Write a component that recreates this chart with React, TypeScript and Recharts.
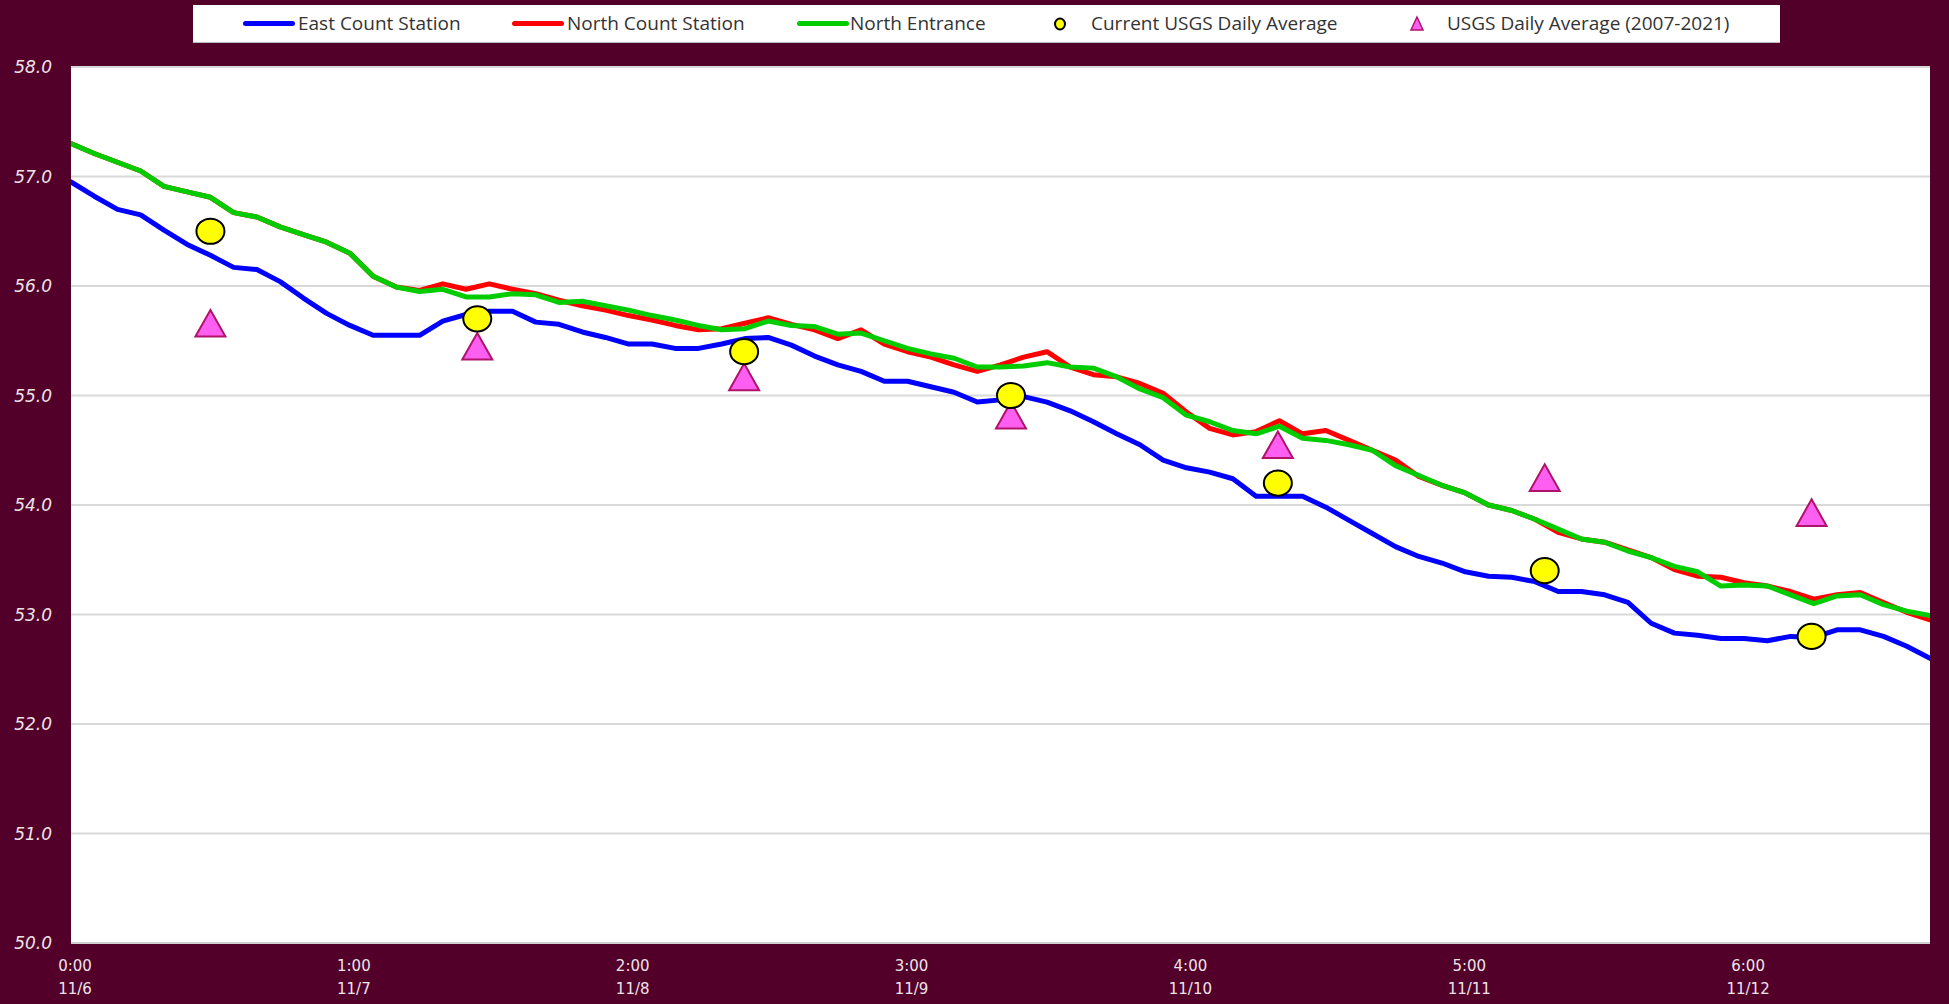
import React from "react";
import {
  ComposedChart,
  Line,
  Scatter,
  XAxis,
  YAxis,
  CartesianGrid,
} from "recharts";

// 2-hour samples starting 11/6 0:00 (x in days)
const eastCount = [
  56.95, 56.82, 56.7, 56.65, 56.51, 56.38, 56.28, 56.17, 56.15, 56.04, 55.89, 55.75, 55.64,
  55.55, 55.55, 55.55, 55.68, 55.74, 55.77, 55.77, 55.67, 55.65, 55.58, 55.53, 55.47,
  55.47, 55.43, 55.43, 55.47, 55.52, 55.53, 55.46, 55.36, 55.28, 55.22, 55.13, 55.13,
  55.08, 55.03, 54.94, 54.96, 54.99, 54.94, 54.86, 54.76, 54.65, 54.55, 54.41, 54.34,
  54.3, 54.24, 54.08, 54.08, 54.08, 53.98, 53.86, 53.74, 53.62, 53.53, 53.47, 53.39,
  53.35, 53.34, 53.3, 53.21, 53.21, 53.18, 53.11, 52.92, 52.83, 52.81, 52.78, 52.78,
  52.76, 52.8, 52.79, 52.86, 52.86, 52.8, 52.71, 52.6,
];
const northCount = [
  57.3, 57.21, 57.13, 57.05, 56.91, 56.86, 56.81, 56.67, 56.63, 56.54, 56.47, 56.4, 56.3,
  56.09, 55.99, 55.96, 56.02, 55.97, 56.02, 55.97, 55.93, 55.87, 55.82, 55.78, 55.73,
  55.69, 55.64, 55.6, 55.61, 55.66, 55.71, 55.65, 55.6, 55.52, 55.6, 55.47, 55.4, 55.35,
  55.28, 55.22, 55.28, 55.35, 55.4, 55.26, 55.19, 55.17, 55.11, 55.02, 54.85, 54.7,
  54.64, 54.67, 54.77, 54.65, 54.68, 54.59, 54.5, 54.41, 54.26, 54.18, 54.11, 54.0,
  53.95, 53.87, 53.75, 53.69, 53.66, 53.59, 53.52, 53.41, 53.35, 53.34, 53.29, 53.26,
  53.21, 53.14, 53.18, 53.2, 53.11, 53.02, 52.95,
];
const northEntrance = [
  57.3, 57.21, 57.13, 57.05, 56.91, 56.86, 56.81, 56.67, 56.63, 56.54, 56.47, 56.4, 56.3,
  56.09, 55.99, 55.95, 55.97, 55.9, 55.9, 55.93, 55.92, 55.85, 55.86, 55.82, 55.78, 55.73,
  55.69, 55.64, 55.6, 55.61, 55.68, 55.64, 55.63, 55.56, 55.57, 55.5, 55.43, 55.38,
  55.34, 55.26, 55.26, 55.27, 55.3, 55.26, 55.25, 55.17, 55.06, 54.98, 54.82, 54.76,
  54.68, 54.65, 54.72, 54.61, 54.59, 54.55, 54.5, 54.36, 54.27, 54.18, 54.11, 54.0,
  53.95, 53.87, 53.78, 53.69, 53.66, 53.58, 53.52, 53.44, 53.39, 53.26, 53.27, 53.26,
  53.18, 53.1, 53.17, 53.18, 53.09, 53.03, 52.99,
];
const sampleStepDays = 1 / 12;

const usgsX = [0.5, 1.457, 2.414, 3.371, 4.328, 5.285, 6.242];
const usgsCurrent = [56.5, 55.7, 55.4, 55.0, 54.2, 53.4, 52.8];
const usgsHistoric = [55.66, 55.45, 55.17, 54.82, 54.55, 54.25, 53.93];

const xTickTimes = ["0:00", "1:00", "2:00", "3:00", "4:00", "5:00", "6:00"];
const xTickDates = ["11/6", "11/7", "11/8", "11/9", "11/10", "11/11", "11/12"];
const yTicks = [50, 51, 52, 53, 54, 55, 56, 57, 58];

const seriesNames = {
  east: "East Count Station",
  north: "North Count Station",
  entrance: "North Entrance",
  current: "Current USGS Daily Average",
  historic: "USGS Daily Average (2007-2021)",
};

const lineData = eastCount.map((v, i) => ({
  x: i * sampleStepDays,
  east: v,
  north: northCount[i],
  entrance: northEntrance[i],
}));
const currentData = usgsX.map((x, i) => ({ x, y: usgsCurrent[i] }));
const historicData = usgsX.map((x, i) => ({ x, y: usgsHistoric[i] }));

const BG = "#52002A";
const W = 1949;
const H = 1004;

const XTick = (props: any) => {
  const { x, y, payload } = props;
  const k = Math.round(payload.value);
  return (
    <text
      x={x + 4}
      y={y}
      textAnchor="middle"
      fill="#EDE4E8"
      fontFamily="DejaVu Sans"
      fontSize={15}
    >
      <tspan x={x + 4} dy={28}>
        {xTickTimes[k]}
      </tspan>
      <tspan x={x + 4} dy={22.5}>
        {xTickDates[k]}
      </tspan>
    </text>
  );
};

const YTick = (props: any) => {
  const { x, y, payload } = props;
  return (
    <text
      x={x}
      y={y}
      dy={6}
      textAnchor="end"
      fill="#EDE4E8"
      fontFamily="DejaVu Sans"
      fontStyle="italic"
      fontSize={17}
    >
      {Number(payload.value).toFixed(1)}
    </text>
  );
};

const CircleShape = (p: any) => (
  <ellipse cx={p.cx} cy={p.cy} rx={14} ry={12.6} fill="#FFFF00" stroke="#000" strokeWidth={2} />
);
const TriShape = (p: any) => {
  const w = 15;
  const h = 13.3;
  const d = `M${p.cx},${p.cy - h} L${p.cx + w},${p.cy + h} L${p.cx - w},${p.cy + h} Z`;
  return <path d={d} fill="#FF5FF0" stroke="#B0136A" strokeWidth={2} strokeLinejoin="miter" />;
};

const legendText: React.CSSProperties = {
  position: "absolute",
  top: 5,
  fontFamily: "'Open Sans'",
  fontSize: 19,
  color: "#333333",
  whiteSpace: "nowrap",
};

const Swatch = ({ left, color }: { left: number; color: string }) => (
  <div
    style={{
      position: "absolute",
      left,
      top: 16,
      width: 52,
      height: 5,
      borderRadius: 3,
      background: color,
    }}
  />
);

const Legend = () => (
  <div
    style={{
      position: "absolute",
      left: 193,
      top: 5,
      width: 1587,
      height: 37,
      background: "#fff",
      borderBottom: "1px solid #bbb",
    }}
  >
    <Swatch left={50} color="#0000FF" />
    <div style={{ ...legendText, left: 105 }}>{seriesNames.east}</div>
    <Swatch left={319} color="#FF0000" />
    <div style={{ ...legendText, left: 374 }}>{seriesNames.north}</div>
    <Swatch left={604} color="#00CC00" />
    <div style={{ ...legendText, left: 657 }}>{seriesNames.entrance}</div>
    <svg style={{ position: "absolute", left: 855, top: 10 }} width={24} height={20}>
      <ellipse cx={12} cy={9} rx={5} ry={5.5} fill="#FFFF00" stroke="#000" strokeWidth={2} />
    </svg>
    <div style={{ ...legendText, left: 898 }}>{seriesNames.current}</div>
    <svg style={{ position: "absolute", left: 1212, top: 10 }} width={24} height={20}>
      <path d="M12,2 L18,15 L6,15 Z" fill="#FF5FF0" stroke="#B0136A" strokeWidth={1.5} />
    </svg>
    <div style={{ ...legendText, left: 1254 }}>{seriesNames.historic}</div>
  </div>
);

export default function App() {
  return (
    <div style={{ position: "relative", width: W, height: H, background: BG, overflow: "hidden" }}>
      <style>{"body{margin:0;}"}</style>
      <ComposedChart
        width={W}
        height={H}
        data={lineData}
        margin={{ top: 67, right: 19, bottom: 0, left: 0 }}
      >
        <CartesianGrid
          vertical={false}
          horizontal
          stroke="#D9D9D9"
          strokeWidth={2}
          fill="#FFFFFF"
          fillOpacity={1}
        />
        <XAxis
          dataKey="x"
          type="number"
          domain={[0, 80 * sampleStepDays]}
          ticks={[0, 1, 2, 3, 4, 5, 6]}
          tick={<XTick />}
          tickLine={false}
          tickSize={0}
          tickMargin={0}
          height={61}
          axisLine={{ stroke: "#D0D0D0", strokeWidth: 2 }}
          interval={0}
          allowDataOverflow
        />
        <YAxis
          type="number"
          domain={[50, 58]}
          ticks={yTicks}
          width={71}
          tick={<YTick />}
          tickLine={false}
          tickSize={0}
          tickMargin={19}
          axisLine={false}
          interval={0}
          allowDataOverflow
        />
        <Line
          dataKey="east"
          name={seriesNames.east}
          stroke="#0000FF"
          strokeWidth={5}
          dot={false}
          isAnimationActive={false}
          strokeLinejoin="round"
          strokeLinecap="round"
        />
        <Line
          dataKey="north"
          name={seriesNames.north}
          stroke="#FF0000"
          strokeWidth={5}
          dot={false}
          isAnimationActive={false}
          strokeLinejoin="round"
          strokeLinecap="round"
        />
        <Line
          dataKey="entrance"
          name={seriesNames.entrance}
          stroke="#00CC00"
          strokeWidth={5}
          dot={false}
          isAnimationActive={false}
          strokeLinejoin="round"
          strokeLinecap="round"
        />
        <Scatter
          data={historicData}
          dataKey="y"
          name={seriesNames.historic}
          shape={TriShape}
          isAnimationActive={false}
        />
        <Scatter
          data={currentData}
          dataKey="y"
          name={seriesNames.current}
          shape={CircleShape}
          isAnimationActive={false}
        />
      </ComposedChart>
      <Legend />
    </div>
  );
}
